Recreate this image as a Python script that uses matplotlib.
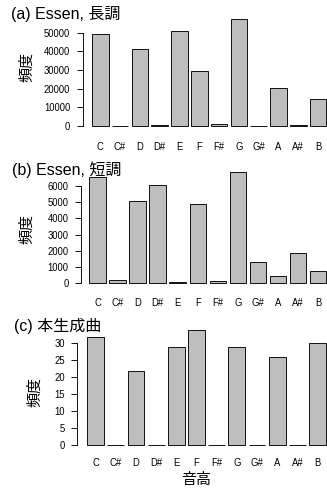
import matplotlib
matplotlib.use("Agg")
import matplotlib.pyplot as plt

plt.rcParams['font.family'] = ['Liberation Sans', 'Noto Sans CJK JP', 'DejaVu Sans']

pitches = ['C', 'C#', 'D', 'D#', 'E', 'F', 'F#', 'G', 'G#', 'A', 'A#', 'B']
essen_major = [49400, 200, 41300, 500, 51000, 29300, 1000, 57300, 200, 20500, 700, 14600]
essen_minor = [6550, 200, 5050, 6050, 80, 4880, 120, 6820, 1310, 420, 1840, 760]
generated = [32, 0, 22, 0, 29, 34, 0, 29, 0, 26, 0, 30]

titles = ['(a) Essen, 長調', '(b) Essen, 短調', '(c) 本生成曲']
yticks = [list(range(0, 50001, 10000)), list(range(0, 6001, 1000)), list(range(0, 31, 5))]
series = [essen_major, essen_minor, generated]

W, H = 327, 488
# pixel layout per panel: axis x, first bar left, px per bar unit, zero y, px per value,
# title x, title baseline, ylabel x, ylabel y, x tick label centre y
layout = [
    (82.7, 92.0, 16.5, 126.0, 93.3 / 50000, 11, 19, 27.5, 67, 146.7),
    (81.0, 89.3, 16.7, 283.3, 97.6 / 6000, 12.5, 175, 27.5, 228.5, 303.5),
    (77.3, 87.3, 16.8, 445.3, 102.0 / 30, 14, 331, 35, 392, 463.3),
]

fig = plt.figure(figsize=(W / 72, H / 72), dpi=72)

centers = [0.7 + 1.2 * i for i in range(len(pitches))]

for vals, title, ticks, lay in zip(series, titles, yticks, layout):
    ax_x, bar_x, unit, zero_y, ppv, tx, ty, lx, ly, xl_y = lay
    vmax = max(vals)
    ymin, ymax = -0.04 * vmax, 1.04 * vmax
    bot_px = zero_y - ymin * ppv
    top_px = zero_y - ymax * ppv
    xmin = 0.2 - (bar_x - ax_x) / unit
    xmax = xmin + (W - ax_x) / unit
    ax = fig.add_axes([ax_x / W, 1 - bot_px / H, (W - ax_x) / W, (bot_px - top_px) / H])
    bars = ax.bar(centers, vals, width=1.0, color='#bebebe', edgecolor='black', linewidth=0.9)
    for b in bars:
        b.set_clip_on(False)
    ax.set_xlim(xmin, xmax)
    ax.set_ylim(ymin, ymax)
    for s in ['top', 'right', 'bottom']:
        ax.spines[s].set_visible(False)
    ax.spines['left'].set_bounds(ticks[0], ticks[-1])
    ax.spines['left'].set_linewidth(0.9)
    ax.set_yticks(ticks)
    ax.set_yticklabels([str(t) for t in ticks])
    ax.tick_params(axis='y', length=6, width=0.9, pad=6.5, labelsize=9.5)
    ax.set_xticks(centers)
    ax.set_xticklabels(pitches)
    ax.tick_params(axis='x', length=0, pad=xl_y - bot_px, labelsize=9.5)
    for lab in ax.get_xticklabels():
        lab.set_verticalalignment('center')
    ax.patch.set_alpha(0)
    fig.text(tx / W, 1 - ty / H, title, fontsize=16, ha='left', va='baseline')
    fig.text(lx / W, 1 - ly / H, '頻度', fontsize=15, rotation=90, ha='center', va='center')

fig.text(196 / W, 1 - 480 / H, '音高', fontsize=15, ha='center', va='center')

fig.savefig('out.png', dpi=72)
